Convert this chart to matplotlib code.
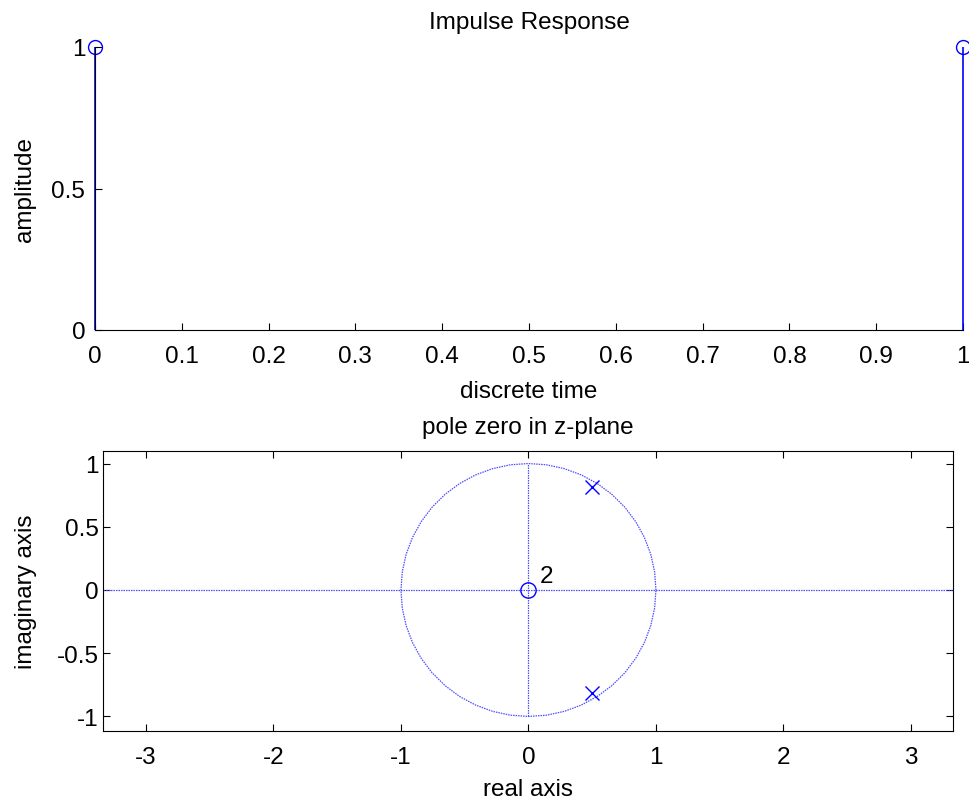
import numpy as np
import matplotlib
matplotlib.use("Agg")
import matplotlib.pyplot as plt

# impulse response samples
n_vals = [0, 1]
h_vals = [1, 1]

# pole / zero locations
zeros_re = [0.0]
zeros_im = [0.0]
zero_mult = 2
poles_re = [0.5, 0.5]
poles_im = [0.816, -0.816]

plt.rcParams['font.family'] = ['Liberation Sans', 'DejaVu Sans']
plt.rcParams['axes.unicode_minus'] = False
FS = 17.5
plt.rcParams['font.size'] = FS

fig = plt.figure(figsize=(9.69, 8.03), dpi=100)
W, H = 969, 803

# top: impulse response
ax1 = fig.add_axes([95 / W, 1 - 331 / H, (963 - 95) / W, (331 - 48) / H])
ax1.vlines(n_vals, 0, h_vals, color='blue', lw=1.2, clip_on=False)
ax1.plot(n_vals, h_vals, 'o', mfc='none', mec='blue', ms=10, mew=1.0, clip_on=False)
ax1.set_xlim(0, 1)
ax1.set_ylim(0, 1)
ax1.set_xticks(np.arange(0, 1.01, 0.1))
ax1.set_xticklabels(['0', '0.1', '0.2', '0.3', '0.4', '0.5', '0.6', '0.7', '0.8', '0.9', '1'])
ax1.set_yticks([0, 0.5, 1])
ax1.set_yticklabels(['0', '0.5', '1'])
ax1.spines['top'].set_visible(False)
ax1.spines['right'].set_visible(False)
ax1.tick_params(axis='x', direction='in', length=5, width=0.8, pad=11)
ax1.tick_params(axis='y', direction='in', length=5, width=0.8, pad=7)
ax1.set_title('Impulse Response', fontsize=FS, pad=14)
ax1.set_xlabel('discrete time', fontsize=FS, labelpad=9)
ax1.set_ylabel('amplitude', fontsize=FS, labelpad=11)

# bottom: pole-zero plot
ax2 = fig.add_axes([103 / W, 1 - 732 / H, (953 - 103) / W, (732 - 452) / H])
xl = (-3.337, 3.33)
yl = (-1.115, 1.099)
theta = np.linspace(0, 2 * np.pi, 45)
ref_style = dict(ls=(0, (1.2, 0.8)), color='#4d4dff', lw=0.9)
ax2.plot(np.cos(theta), np.sin(theta), **ref_style)
ax2.plot(xl, [0, 0], **ref_style)
ax2.plot([0, 0], [-1, 1], **ref_style)
ax2.plot(zeros_re, zeros_im, 'o', mfc='none', mec='blue', ms=11, mew=1.0)
ax2.plot(poles_re, poles_im, 'x', color='blue', ms=10, mew=1.0)
ax2.text(zeros_re[0] + 0.09, zeros_im[0] + 0.02, str(zero_mult), fontsize=FS,
         ha='left', va='bottom')
ax2.set_xlim(*xl)
ax2.set_ylim(*yl)
ax2.set_xticks([-3, -2, -1, 0, 1, 2, 3])
ax2.set_yticks([-1, -0.5, 0, 0.5, 1])
ax2.set_yticklabels(['-1', '-0.5', '0', '0.5', '1'])
ax2.tick_params(axis='x', direction='in', length=5, width=0.8, top=True, pad=11)
ax2.tick_params(axis='y', direction='in', length=5, width=0.8, right=True, pad=3)
ax2.set_title('pole zero in z-plane', fontsize=FS, pad=13)
ax2.set_xlabel('real axis', fontsize=FS, labelpad=7)
ax2.set_ylabel('imaginary axis', fontsize=FS, labelpad=14)

fig.savefig('out.png', dpi=100)
